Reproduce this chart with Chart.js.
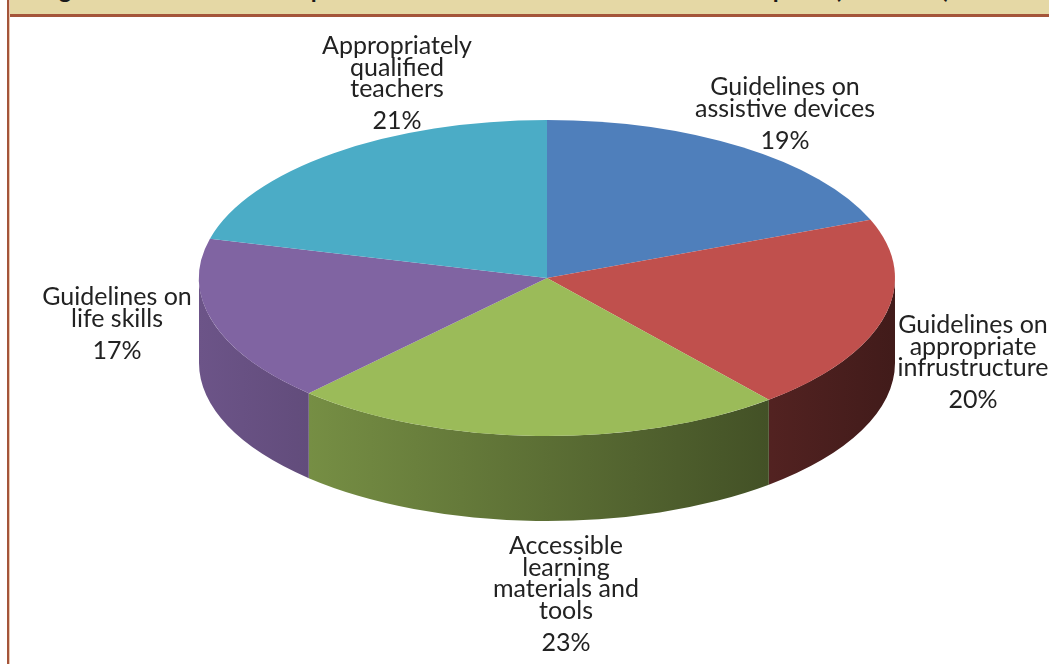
<!DOCTYPE html>
<html>
<head>
<meta charset="utf-8">
<script src="https://cdn.jsdelivr.net/npm/chart.js@4.4.0/dist/chart.umd.min.js"></script>
<style>
  html, body { margin: 0; padding: 0; background: #fff; }
  #frame { position: relative; width: 1049px; height: 664px; overflow: hidden; background: #fff; font-family: Lato, "Noto Sans", sans-serif; }
  #band { position: absolute; left: 9px; top: 0; right: 0; height: 14px; background: #e5d8a5; border-bottom: 3px solid #a4553a; overflow: hidden; }
  #title { position: absolute; left: 30px; top: -26px; font-weight: bold; font-size: 24px; line-height: 29px; white-space: nowrap; color: #1a1a1a; }
  #leftRule { position: absolute; left: 7px; top: 0; width: 2px; height: 664px; background: #a4553a; border-right: 1px solid #ecc9b2; }
  #chartBox { position: absolute; left: 0; top: 0; width: 1049px; height: 664px; }
  .lbl { position: absolute; transform: translateX(-50%); text-align: center; font-size: 25px; line-height: 21.5px; color: #222; white-space: pre-line; }
  .lbl .pct { display: block; margin-top: 10.5px; }
</style>
</head>
<body>
<div id="frame">
  <div id="band"><div id="title">Figure 8: Elements of the provisions for inclusive education in school plans (% of total)</div></div>
  <div id="leftRule"></div>
  <div id="chartBox"><canvas id="pieChart"></canvas></div>
</div>
<script>
// policy components and their share of responses (%)
const categories = [
  'Guidelines on\nassistive devices',
  'Guidelines on\nappropriate\ninfrustructure',
  'Accessible\nlearning\nmaterials and\ntools',
  'Guidelines on\nlife skills',
  'Appropriately\nqualified\nteachers'
];
const shares = [19, 20, 23, 17, 21];

const sliceColors = ['#4f7fbb', '#c0504d', '#9bbb59', '#8064a2', '#4bacc6'];

// label anchor: centre x, top of first line
const labelAnchors = [[785, 75], [973, 313], [566, 534], [117, 285], [397, 34]];

// tilted pie: top ellipse centre, radii and wall height
const PIE = { cx: 547, cy: 278, rx: 348, ry: 158, depth: 85 };

function shade(hex, f) {
  const n = parseInt(hex.slice(1), 16);
  const r = Math.round(((n >> 16) & 255) * f);
  const g = Math.round(((n >> 8) & 255) * f);
  const b = Math.round((n & 255) * f);
  return `rgb(${r}, ${g}, ${b})`;
}

// draws the wall under the pie and squashes the slices into an ellipse
const pie3d = {
  id: 'pie3d',
  beforeDatasetsDraw(chart) {
    const ctx = chart.ctx;
    const arcs = chart.getDatasetMeta(0).data;
    if (!arcs.length) return;
    const r = arcs[0].outerRadius;
    const ox = arcs[0].x, oy = arcs[0].y;
    const { cx, cy, rx, ry, depth } = PIE;

    ctx.save();
    arcs.forEach((arc, i) => {
      // only the front half of the wall (0..PI) faces the viewer
      [-2 * Math.PI, 0, 2 * Math.PI].forEach(shift => {
        const a = Math.max(arc.startAngle + shift, 0);
        const b = Math.min(arc.endAngle + shift, Math.PI);
        if (b <= a) return;
        const grad = ctx.createLinearGradient(cx - rx, 0, cx + rx, 0);
        grad.addColorStop(0, shade(sliceColors[i], 0.84));
        grad.addColorStop(1, shade(sliceColors[i], 0.34));
        ctx.beginPath();
        ctx.ellipse(cx, cy, rx, ry, 0, a, b);
        ctx.lineTo(cx + rx * Math.cos(b), cy + ry * Math.sin(b) + depth);
        ctx.ellipse(cx, cy + depth, rx, ry, 0, b, a, true);
        ctx.closePath();
        ctx.fillStyle = grad;
        ctx.fill();
      });
    });

    ctx.translate(cx, cy);
    ctx.scale(rx / r, ry / r);
    ctx.translate(-ox, -oy);
  },
  afterDatasetsDraw(chart) {
    chart.ctx.restore();
  }
};

new Chart(document.getElementById('pieChart'), {
  type: 'pie',
  data: {
    labels: categories,
    datasets: [{
      data: shares,
      backgroundColor: sliceColors,
      borderWidth: 0,
      clip: false
    }]
  },
  options: {
    responsive: true,
    maintainAspectRatio: false,
    animation: false,
    events: [],
    layout: { padding: 20 },
    plugins: {
      legend: { display: false },
      tooltip: { enabled: false }
    }
  },
  plugins: [pie3d]
});

// slice labels
const frame = document.getElementById('frame');
categories.forEach((name, i) => {
  const el = document.createElement('div');
  el.className = 'lbl';
  el.style.left = labelAnchors[i][0] + 'px';
  el.style.top = labelAnchors[i][1] + 'px';
  el.textContent = name;
  const pct = document.createElement('span');
  pct.className = 'pct';
  pct.textContent = shares[i] + '%';
  el.appendChild(pct);
  frame.appendChild(el);
});
</script>
</body>
</html>
